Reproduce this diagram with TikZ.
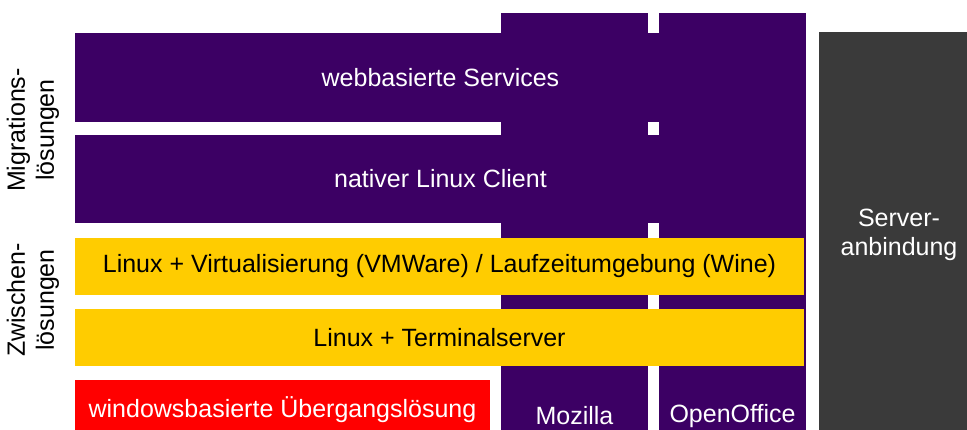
\documentclass[tikz,border=0pt]{standalone}
\usepackage{fontspec}
\setmainfont{Liberation Sans}
\definecolor{r60g0b100}{rgb}{0.235,0.000,0.392}
\definecolor{r255g204b0}{rgb}{1.000,0.800,0.000}
\definecolor{r255g0b0}{rgb}{1.000,0.000,0.000}
\definecolor{r58g58b58}{rgb}{0.227,0.227,0.227}
\tikzset{
  bar/.style={anchor=north west, inner sep=0pt, outer sep=0pt, align=center},
  barlabel/.style={inner sep=0pt, align=center},
}
\begin{document}
\begin{tikzpicture}[x=1pt,y=-1pt]
% \clip (0,0) rectangle (967,429);
\useasboundingbox (0,0) rectangle (967,429);
\clip (0,0) rectangle (967,429);
{\fontsize{25}{29}\selectfont

% Drawing product columns
\node [bar, fill=r60g0b100, minimum width=147pt, minimum height=460pt] (mozcol) at (501,13) {};%
\node [bar, fill=r60g0b100, minimum width=147pt, minimum height=460pt] (oocol) at (659,13) {};%

% Drawing migration bars
\node [bar, fill=r60g0b100, text=white, minimum width=731pt, minimum height=89pt] (web) at (75,33) {webbasierte Services};%
\node [bar, fill=r60g0b100, text=white, minimum width=731pt, minimum height=88pt] (native) at (75,135) {nativer Linux Client};%

% Drawing intermediate bars
\node [bar, fill=r255g204b0, minimum width=729pt, minimum height=57pt] (virt) at (75,238) {Linux + Virtualisierung (VMWare) / Laufzeitumgebung (Wine)};%
\node [bar, fill=r255g204b0, minimum width=729pt, minimum height=57pt] (term) at (75,309) {Linux + Terminalserver};%

% Drawing windows bar
\node [bar, fill=r255g0b0, text=white, minimum width=415pt, minimum height=60pt] (win) at (75,380) {windowsbasierte Übergangslösung};%

% Drawing server box
\node [bar, fill=r58g58b58, text=white, minimum width=160pt, minimum height=406pt] (server) at (819,32) {Server-\\anbindung};%

% Column labels
\node [barlabel, text=white] (moz) at (574.5,416) {Mozilla};%
\node [barlabel, text=white] (oo) at (732.5,416) {OpenOffice};%

% Side labels
\node [barlabel, rotate=90] (migr) at (33,130) {Migrations-\\lösungen};%
\node [barlabel, rotate=90] (zwi) at (33,300) {Zwischen-\\lösungen};%
}
\end{tikzpicture}
\end{document}
